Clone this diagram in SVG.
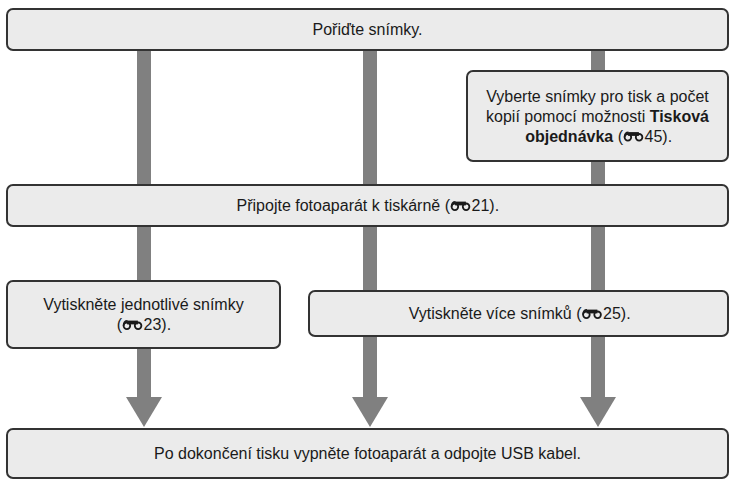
<svg xmlns="http://www.w3.org/2000/svg" xmlns:xlink="http://www.w3.org/1999/xlink" width="731" height="481" viewBox="0 0 731 481">
<style>
.box{fill:#ebebeb;stroke:#333;stroke-width:2}
.t{font-family:"Liberation Sans",Arial,sans-serif;font-size:16px;fill:#1a1a1a}
.m{text-anchor:middle}
.e{text-anchor:end}
.b{font-weight:bold}
.shaft{stroke:#808080;stroke-width:14;fill:none}
.head{fill:#808080}
</style>
<defs>
<g id="ico">
<circle cx="4.4" cy="-4.2" r="3.3" fill="none" stroke="#1a1a1a" stroke-width="1.8"/>
<circle cx="15.6" cy="-4.2" r="3.3" fill="none" stroke="#1a1a1a" stroke-width="1.8"/>
<rect x="4.6" y="-9.4" width="10.8" height="3.8" fill="#1a1a1a"/>
<path d="M1.1 -4.2 Q1.1 -9.2 5 -9.2" fill="none" stroke="#1a1a1a" stroke-width="1.7"/>
</g>
</defs>
<g id="connectors">
<line class="shaft" x1="144" y1="50" x2="144" y2="398"/>
<polygon class="head" points="126,397 162,397 144,427"/>
<line class="shaft" x1="370" y1="50" x2="370" y2="398"/>
<polygon class="head" points="352,397 388,397 370,427"/>
<line class="shaft" x1="598" y1="50" x2="598" y2="398"/>
<polygon class="head" points="580,397 616,397 598,427"/>
</g>
<g id="n1">
<rect class="box" x="7" y="9" width="721" height="41" rx="6"/>
<text class="t m" x="367.5" y="35">Pořiďte snímky.</text>
</g>
<g id="n2">
<rect class="box" x="467" y="71" width="261" height="90" rx="6"/>
<text class="t m" x="597.5" y="101.5">Vyberte snímky pro tisk a počet</text>
<text class="t m" x="597.5" y="121.5">kopií pomocí možnosti <tspan class="b">Tisková</tspan></text>
<text class="t e" x="623" y="141.5"><tspan class="b">objednávka</tspan> (</text>
<use xlink:href="#ico" href="#ico" x="623.5" y="141.5"/>
<text class="t" x="644.5" y="141.5">45).</text>
</g>
<g id="n3">
<rect class="box" x="7" y="185" width="721" height="41" rx="6"/>
<text class="t e" x="450" y="211">Připojte fotoaparát k tiskárně (</text>
<use xlink:href="#ico" href="#ico" x="450.5" y="211"/>
<text class="t" x="471.5" y="211">21).</text>
</g>
<g id="n4">
<rect class="box" x="7" y="281" width="273" height="67" rx="6"/>
<text class="t m" x="143.5" y="310">Vytiskněte jednotlivé snímky</text>
<text class="t e" x="122" y="330">(</text>
<use xlink:href="#ico" href="#ico" x="122.5" y="330"/>
<text class="t" x="143.5" y="330">23).</text>
</g>
<g id="n5">
<rect class="box" x="309" y="291" width="419" height="45" rx="6"/>
<text class="t e" x="581.5" y="319">Vytiskněte více snímků (</text>
<use xlink:href="#ico" href="#ico" x="582" y="319"/>
<text class="t" x="603" y="319">25).</text>
</g>
<g id="n6">
<rect class="box" x="7" y="429" width="721" height="49" rx="6"/>
<text class="t m" x="367.5" y="459">Po dokončení tisku vypněte fotoaparát a odpojte USB kabel.</text>
</g>
</svg>
